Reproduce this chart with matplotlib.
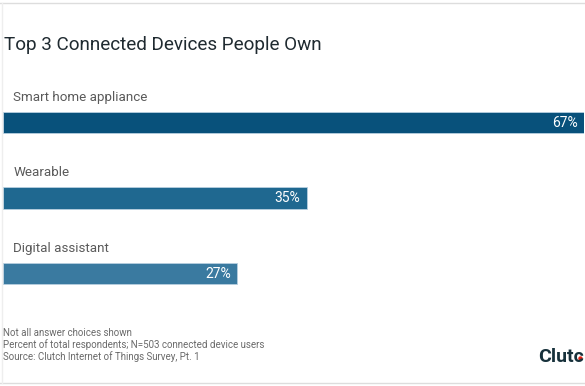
"""Top 3 connected devices people own - horizontal bar chart."""

import matplotlib.pyplot as plt
from matplotlib.lines import Line2D

categories = ["Smart home appliance", "Wearable", "Digital assistant"]
values = [67, 35, 27]
value_labels = ["67%", "35%", "27%"]
bar_colors = ["#08517b", "#1f6890", "#3a7aa0"]

title = "Top 3 Connected Devices People Own"
notes = [
    "Not all answer choices shown",
    "Percent of total respondents; N=503 connected device users",
    "Source: Clutch Internet of Things Survey, Pt. 1",
]
logo = "Clutc"  # the logo is cropped by the right edge in the source image

W, H = 585, 386
plt.rcParams["font.family"] = ["Roboto", "DejaVu Sans"]

fig = plt.figure(figsize=(W / 100, H / 100), dpi=100)
fig.patch.set_facecolor("white")

# axes: x from 3px to 584px, y from 85px to 310px (top-based)
ax = fig.add_axes([3 / W, 1 - 310 / H, 581 / W, 225 / H])
ax.set_xlim(0, max(values))
ax.set_ylim(2.483, -0.497)
ax.axis("off")

pos = list(range(len(categories)))
ax.barh(pos, values, height=0.28, color=bar_colors,
        edgecolor="#b7cfdf", linewidth=0.6)

for i, (cat, v, lab) in enumerate(zip(categories, values, value_labels)):
    ax.text(1.2, i - 0.335, cat, ha="left", va="center",
            fontsize=9.6, color="#5a5a5a")
    ax.text(v - 0.7, i, lab, ha="right", va="center",
            fontsize=10, color="white")

fig.text(4 / W, 1 - 45 / H, title, ha="left", va="center",
         fontsize=13.6, color="#1f2a30")

for k, line in enumerate(notes):
    fig.text(3 / W, 1 - (333 + 12 * k) / H, line, ha="left", va="center",
             fontsize=7, color="#6a6a6a")

fig.text(584 / W, 1 - 357 / H, logo, ha="right", va="center",
         fontsize=14, fontweight="bold", color="#17313b")
fig.add_artist(Line2D([580 / W], [1 - 358 / H], marker="o", markersize=2.2,
                      color="#e62415", linestyle="none"))

# frame lines
fig.add_artist(Line2D([0, 1], [1 - 3 / H, 1 - 3 / H], color="#dddddd", lw=1))
fig.add_artist(Line2D([0, 1], [1 - 383 / H, 1 - 383 / H], color="#dddddd", lw=1))
fig.add_artist(Line2D([1.5 / W, 1.5 / W], [1 - 3 / H, 1 - 383 / H],
                      color="#eeeeee", lw=1))

fig.savefig("out.png", dpi=100)
